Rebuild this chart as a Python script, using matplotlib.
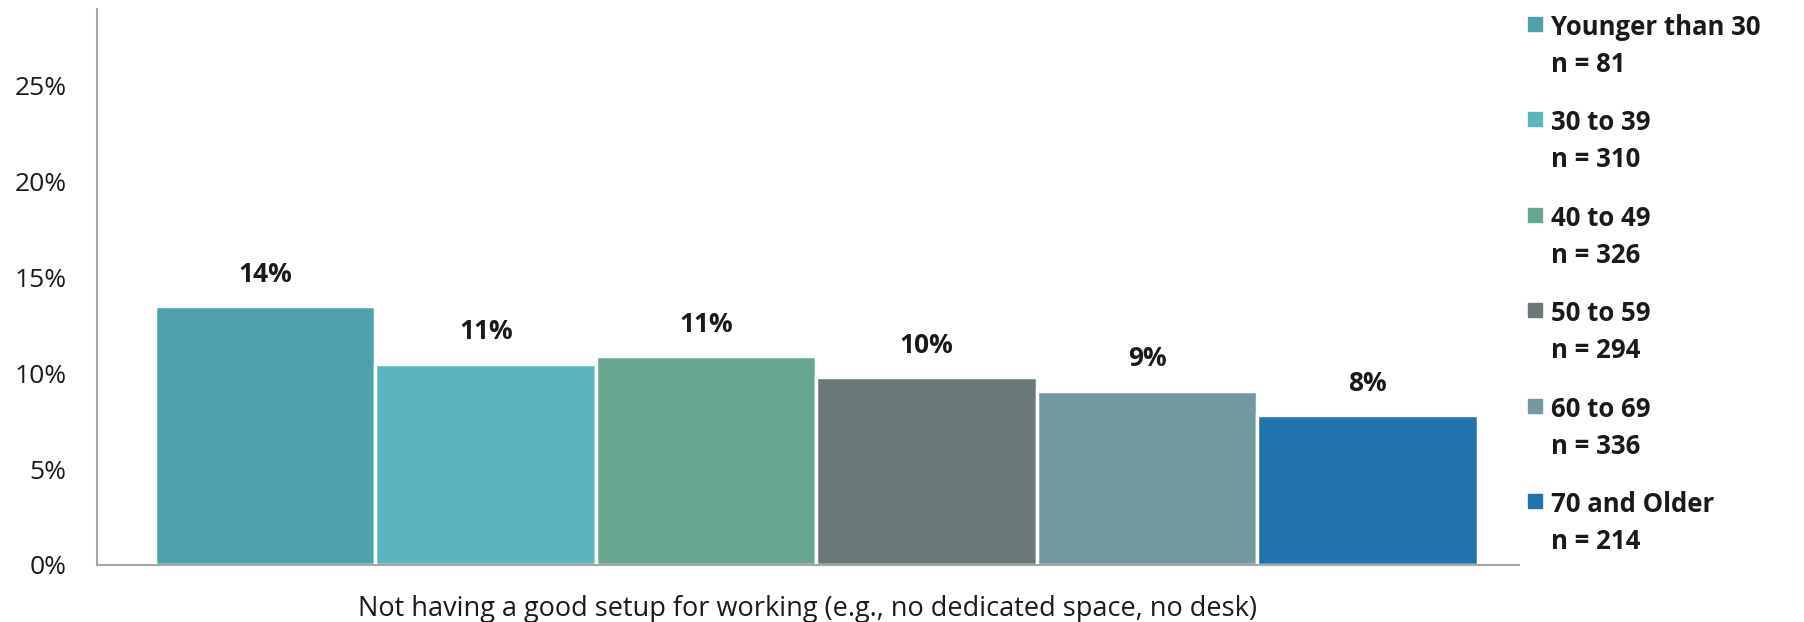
import matplotlib
matplotlib.use("Agg")
import matplotlib.pyplot as plt
from matplotlib.patches import Rectangle

# data
groups = ["Younger than 30", "30 to 39", "40 to 49", "50 to 59", "60 to 69", "70 and Older"]
sample_sizes = [81, 310, 326, 294, 336, 214]
values = [0.135, 0.105, 0.109, 0.098, 0.091, 0.078]
value_labels = ["14%", "11%", "11%", "10%", "9%", "8%"]
colors = ["#4EA0AA", "#5AB5C0", "#68A692", "#6A787A", "#7398A0", "#2272AE"]
category = "Not having a good setup for working (e.g., no dedicated space, no desk)"
yticks = [0, 0.05, 0.10, 0.15, 0.20, 0.25]
ytick_labels = ["0%", "5%", "10%", "15%", "20%", "25%"]

plt.rcParams['font.family'] = ['Open Sans', 'DejaVu Sans']

W, H = 1804, 622
fig = plt.figure(figsize=(W / 100, H / 100), dpi=100)
ax = fig.add_axes([97 / W, 1 - 565 / H, (1519 - 97) / W, (565 - 9) / H])

x = list(range(len(values)))
bars = ax.bar(x, values, width=1.0, color=colors, edgecolor="white", linewidth=2.5)

for xi, v, lab in zip(x, values, value_labels):
    ax.annotate(lab, (xi, v), xytext=(0, 23), textcoords="offset points",
                ha="center", va="center", fontsize=19, fontweight="bold", color="#1a1a1a")

ax.set_xlim(-0.763, 5.686)
ax.set_ylim(0, 0.29)
ax.set_yticks(yticks)
ax.set_yticklabels(ytick_labels)
ax.tick_params(axis="y", length=0, pad=22, labelsize=19, labelcolor="#1a1a1a")
ax.set_xticks([])
ax.set_xlabel(category, fontsize=19.5, color="#1a1a1a", labelpad=21.5)

for s in ["top", "right"]:
    ax.spines[s].set_visible(False)
for s in ["left", "bottom"]:
    ax.spines[s].set_color("#A6A6A6")
    ax.spines[s].set_linewidth(1.5)

# legend, drawn by hand so the swatch sits on the first line
base0, pitch, line2 = 35, 95.4, 37
for i, (g, n, c) in enumerate(zip(groups, sample_sizes, colors)):
    yb = base0 + i * pitch
    fig.patches.append(Rectangle((1528 / W, 1 - (yb - 4) / H), 14 / W, 14 / H,
                                 transform=fig.transFigure, color=c))
    fig.text(1551 / W, 1 - yb / H, g, fontsize=18.5, fontweight="bold",
             color="#1a1a1a", va="baseline", ha="left")
    fig.text(1551 / W, 1 - (yb + line2) / H, f"n = {n}", fontsize=18.5, fontweight="bold",
             color="#1a1a1a", va="baseline", ha="left")

fig.savefig("out.png", dpi=100)
